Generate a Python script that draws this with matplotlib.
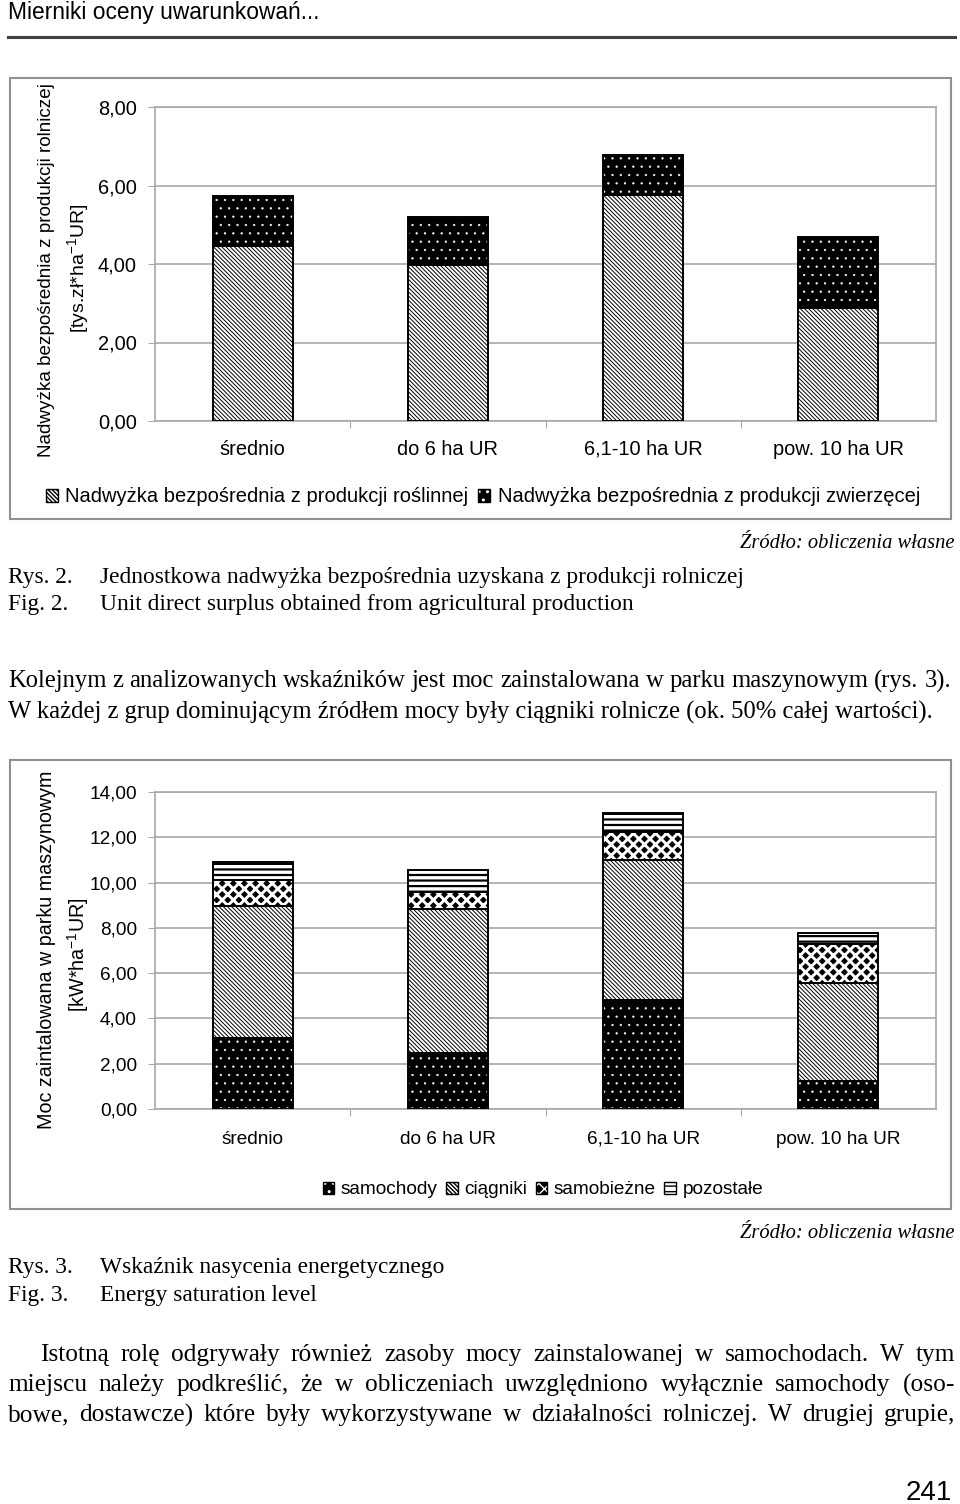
import matplotlib
matplotlib.use("Agg")
import matplotlib.pyplot as plt
from matplotlib.patches import Patch, Rectangle
from matplotlib.lines import Line2D
from matplotlib.transforms import blended_transform_factory
import numpy as np

plt.rcParams['font.family'] = ['Liberation Sans', 'DejaVu Sans']
plt.rcParams['mathtext.fontset'] = 'custom'
plt.rcParams['mathtext.rm'] = 'Liberation Sans'
plt.rcParams['mathtext.default'] = 'regular'

# ---------------- data ----------------
categories = ["średnio", "do 6 ha UR", "6,1-10 ha UR", "pow. 10 ha UR"]

# chart 1 (tys. zł / ha UR)
surplus_crop = [4.46, 3.97, 5.75, 2.88]
surplus_animal = [1.28, 1.23, 1.02, 1.80]
ticks1 = [0, 2, 4, 6, 8]
tick_labels1 = ["0,00", "2,00", "4,00", "6,00", "8,00"]
legend1 = ["Nadwyżka bezpośrednia z produkcji roślinnej",
           "Nadwyżka bezpośrednia z produkcji zwierzęcej"]

# chart 2 (kW / ha UR)
cars = [3.15, 2.49, 4.81, 1.25]
tractors = [5.80, 6.33, 6.19, 4.31]
self_propelled = [1.16, 0.78, 1.24, 1.72]
other = [0.80, 0.96, 0.82, 0.48]
ticks2 = [0, 2, 4, 6, 8, 10, 12, 14]
tick_labels2 = ["0,00", "2,00", "4,00", "6,00", "8,00", "10,00", "12,00", "14,00"]
legend2 = ["samochody", "ciągniki", "samobieżne", "pozostałe"]

W, H = 960, 1504
fig = plt.figure(figsize=(W / 100, H / 100), dpi=100)
fig.patch.set_facecolor('white')

def fx(x):
    return x / W

def fy(y):
    return 1 - y / H

GRID = '#a8a8a8'

# pattern styles: (facecolor, hatchcolor, hatch, hatch linewidth)
STYLE = {
    'diag': ('white', 'black', '\\' * 8, 0.7),
    'dots': ('black', 'white', '..', 0.4),
    'diam': ('black', 'white', 'xxx', 2.1),
    'hor': ('white', 'black', '---', 1.6),
}

def styled_bar(ax, x, h, bottom, width, key):
    fc, hc, hatch, hlw = STYLE[key]
    with plt.rc_context({'hatch.linewidth': hlw}):
        bars = ax.bar(x, h, width, bottom=bottom, color=fc, edgecolor=hc,
                      hatch=hatch, linewidth=0, zorder=3)
        for p in bars:
            if hasattr(p, 'set_hatch_linewidth'):
                p.set_hatch_linewidth(hlw)
    ax.bar(x, h, width, bottom=bottom, fill=False, edgecolor='black',
           linewidth=1.4, zorder=4)

def legend_handle(key):
    fc, hc, hatch, hlw = STYLE[key]
    with plt.rc_context({'hatch.linewidth': hlw}):
        p1 = Patch(facecolor=fc, edgecolor=hc, hatch=hatch, linewidth=0)
        if hasattr(p1, 'set_hatch_linewidth'):
            p1.set_hatch_linewidth(hlw)
    p2 = Patch(fill=False, edgecolor='black', linewidth=1.0)
    return (p1, p2)

def style_axes(ax, ticks, labels, ymax, fs, label_y):
    ax.set_xlim(-0.5, len(categories) - 0.5)
    ax.set_ylim(0, ymax)
    ax.set_yticks(ticks)
    ax.set_yticklabels(labels, fontsize=fs)
    ax.set_xticks([0.5, 1.5, 2.5])
    ax.set_xticklabels([])
    ax.tick_params(axis='x', length=5, color=GRID, direction='out')
    ax.tick_params(axis='y', length=5, color=GRID, pad=8)
    ax.yaxis.grid(True, color=GRID, linewidth=1.2, zorder=0)
    ax.set_axisbelow(True)
    for s in ax.spines.values():
        s.set_color(GRID)
        s.set_linewidth(1.2)
    trans = blended_transform_factory(ax.transData, fig.transFigure)
    for i, cat in enumerate(categories):
        ax.text(i, fy(label_y), cat, transform=trans, fontsize=fs,
                ha='center', va='baseline', clip_on=False)

# ---------------- header ----------------
fig.text(fx(8), fy(13), "Mierniki oceny uwarunkowań...", fontsize=16.4,
         ha='left', va='center')
fig.add_artist(Line2D([fx(8), fx(955)], [fy(37), fy(37)], color='#404040',
                      linewidth=2.2))

# ---------------- chart 1 ----------------
fig.add_artist(Rectangle((fx(10), fy(519)), fx(951) - fx(10), fy(78) - fy(519),
                         fill=False, edgecolor='#909090', linewidth=1.5))
ax1 = fig.add_axes([fx(155), fy(421), fx(936) - fx(155), fy(107) - fy(421)])
x = np.arange(len(categories))
bw = 0.41
styled_bar(ax1, x, surplus_crop, 0, bw, 'diag')
styled_bar(ax1, x, surplus_animal, surplus_crop, bw, 'dots')
style_axes(ax1, ticks1, tick_labels1, 8, 14.4, 455)
fig.text(fx(47), fy(270), "Nadwyżka bezpośrednia z produkcji rolniczej",
         rotation=90, fontsize=13.6, ha='center', va='center')
fig.text(fx(78), fy(268), "[tys.zł*ha$^{-1}$UR]", rotation=90, fontsize=14,
         ha='center', va='center')
fig.legend([legend_handle('diag'), legend_handle('dots')], legend1,
           loc='center', bbox_to_anchor=(fx(483), fy(497)), ncol=2, frameon=False,
           fontsize=14.5, handlelength=0.6, handleheight=0.6, handletextpad=0.35,
           columnspacing=0.5, borderaxespad=0, borderpad=0)

# ---------------- chart 2 ----------------
fig.add_artist(Rectangle((fx(10), fy(1209)), fx(951) - fx(10), fy(760) - fy(1209),
                         fill=False, edgecolor='#909090', linewidth=1.5))
ax2 = fig.add_axes([fx(155), fy(1109), fx(936) - fx(155), fy(792) - fy(1109)])
b1 = np.array(cars)
b2 = b1 + np.array(tractors)
b3 = b2 + np.array(self_propelled)
styled_bar(ax2, x, cars, 0, bw, 'dots')
styled_bar(ax2, x, tractors, b1, bw, 'diag')
styled_bar(ax2, x, self_propelled, b2, bw, 'diam')
styled_bar(ax2, x, other, b3, bw, 'hor')
style_axes(ax2, ticks2, tick_labels2, 14, 13.7, 1144)
fig.text(fx(47), fy(950), "Moc zaintalowana w parku maszynowym",
         rotation=90, fontsize=14.2, ha='center', va='center')
fig.text(fx(78), fy(955), "[kW*ha$^{-1}$UR]", rotation=90, fontsize=14.2,
         ha='center', va='center')
fig.legend([legend_handle('dots'), legend_handle('diag'), legend_handle('diam'),
            legend_handle('hor')], legend2,
           loc='center', bbox_to_anchor=(fx(543), fy(1190)), ncol=4, frameon=False,
           fontsize=13.7, handlelength=0.6, handleheight=0.6, handletextpad=0.35,
           columnspacing=0.45, borderaxespad=0, borderpad=0)

# ---------------- captions & body text ----------------
SERIF = ['Liberation Serif', 'DejaVu Serif']
renderer = fig.canvas.get_renderer()

def justify(text, x0, x1, y, size):
    words = text.split()
    objs = [fig.text(0, fy(y), w, fontsize=size, family=SERIF, va='center')
            for w in words]
    widths = [o.get_window_extent(renderer).width for o in objs]
    gap = (x1 - x0 - sum(widths)) / (len(words) - 1)
    pos = x0
    for o, w in zip(objs, widths):
        o.set_x(fx(pos))
        pos += w + gap

def serif(x, y, s, size=16, ha='left', style='normal'):
    fig.text(fx(x), fy(y), s, fontsize=size, family=SERIF, ha=ha, va='center',
             style=style)

CAP = 16.8
BODY = 17.7
serif(955, 543, "Źródło: obliczenia własne", size=14.8, ha='right', style='italic')
serif(8, 578, "Rys. 2.", size=CAP)
serif(100, 578, "Jednostkowa nadwyżka bezpośrednia uzyskana z produkcji rolniczej", size=CAP)
serif(8, 604, "Fig. 2.", size=CAP)
serif(100, 604, "Unit direct surplus obtained from agricultural production", size=CAP)

justify("Kolejnym z analizowanych wskaźników jest moc zainstalowana w parku maszynowym (rys. 3).",
        8, 951, 681, BODY)
serif(8, 712, "W każdej z grup dominującym źródłem mocy były ciągniki rolnicze (ok. 50% całej wartości).",
      size=BODY)

serif(955, 1234, "Źródło: obliczenia własne", size=14.8, ha='right', style='italic')
serif(8, 1267, "Rys. 3.", size=CAP)
serif(100, 1267, "Wskaźnik nasycenia energetycznego", size=CAP)
serif(8, 1295, "Fig. 3.", size=CAP)
serif(100, 1295, "Energy saturation level", size=CAP)

justify("Istotną rolę odgrywały również zasoby mocy zainstalowanej w samochodach. W tym",
        40, 955, 1355, BODY + 0.6)
justify("miejscu należy podkreślić, że w obliczeniach uwzględniono wyłącznie samochody (oso-",
        8, 955, 1385, BODY + 0.6)
justify("bowe, dostawcze) które były wykorzystywane w działalności rolniczej. W drugiej grupie,",
        8, 955, 1415, BODY + 0.6)

fig.text(fx(952), fy(1493), "241", fontsize=20, ha='right', va='center')

fig.savefig("out.png", dpi=100, facecolor='white')
